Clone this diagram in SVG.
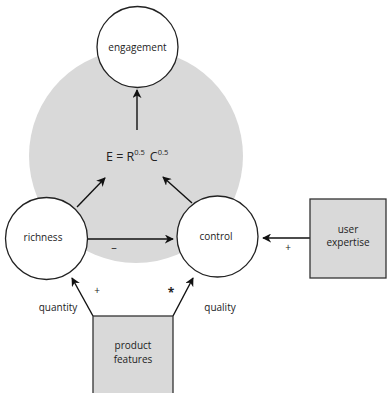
<svg xmlns="http://www.w3.org/2000/svg" width="387" height="393" viewBox="0 0 387 393">
<defs>
<marker id="ah" viewBox="0 0 10 10" refX="9" refY="5" markerWidth="9" markerHeight="9" markerUnits="userSpaceOnUse" orient="auto">
<path d="M0,0 L10,5 L0,10 L3,5 Z" fill="#111"/>
</marker>
<style>
text{font-family:"Open Sans","Liberation Sans",sans-serif;font-size:10px;fill:#222;text-anchor:middle}
.c{fill:#fff;stroke:#222;stroke-width:1.3}
.b{fill:#d9d9d9;stroke:#333;stroke-width:1.3}
.e{stroke:#111;stroke-width:1.4;fill:none;marker-end:url(#ah)}
</style>
</defs>
<rect width="387" height="393" fill="#fff"/>
<circle id="bg" cx="136" cy="156" r="107" fill="#d9d9d9"/>
<g id="connectors">
<line class="e" x1="137" y1="130" x2="137" y2="90"/>
<line class="e" x1="77" y1="207" x2="105" y2="178"/>
<line class="e" x1="192" y1="203" x2="163" y2="177"/>
<line class="e" x1="87" y1="239" x2="173" y2="239"/>
<line class="e" x1="310" y1="238" x2="263" y2="238"/>
<line class="e" x1="93" y1="316" x2="72" y2="278"/>
<line class="e" x1="173" y1="316" x2="193" y2="278"/>
<text x="114" y="251" style="font-size:11px">–</text>
<text x="288" y="251">+</text>
<text x="97" y="294">+</text>
<text x="171" y="297" style="font-size:12px;font-weight:bold">*</text>
<text x="58" y="311">quantity</text>
<text x="220" y="311">quality</text>
</g>
<g id="formula">
<text x="106" y="161" style="text-anchor:start;font-size:12.5px">E = R<tspan dy="-6" style="font-size:7.5px">0.5</tspan><tspan dy="6" dx="5">C</tspan><tspan dy="-6" style="font-size:7.5px">0.5</tspan></text>
</g>
<g id="engagement">
<circle class="c" cx="137.5" cy="47" r="40.5"/>
<text x="137.5" y="51">engagement</text>
</g>
<g id="richness">
<circle class="c" cx="46.5" cy="238.5" r="41"/>
<text x="43" y="241">richness</text>
</g>
<g id="control">
<circle class="c" cx="217.5" cy="236.5" r="40.5"/>
<text x="216" y="240">control</text>
</g>
<g id="user-expertise">
<rect class="b" x="310" y="199" width="76" height="79"/>
<text x="348" y="233">user</text>
<text x="348" y="246">expertise</text>
</g>
<g id="product-features">
<rect class="b" x="93" y="316" width="80" height="80"/>
<text x="133" y="349">product</text>
<text x="133" y="363">features</text>
</g>
</svg>
